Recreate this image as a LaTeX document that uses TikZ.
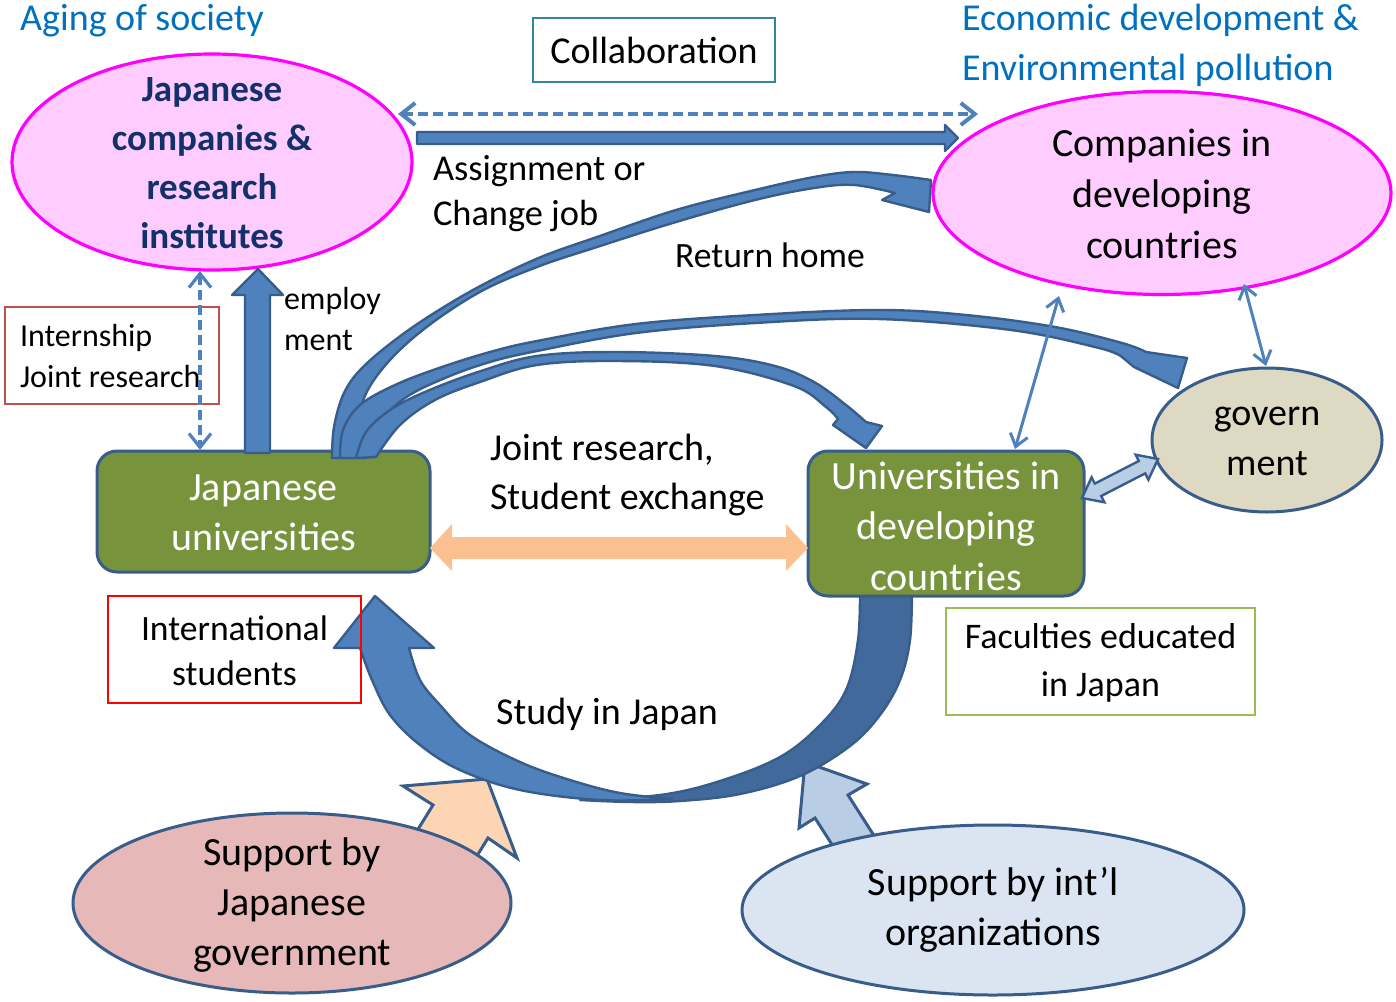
\documentclass[tikz,border=0pt]{standalone}
\usepackage{fontspec}
\setmainfont{Carlito}
\usetikzlibrary{shapes.geometric,arrows.meta}
\definecolor{accent}{HTML}{4F81BD}
\definecolor{edge}{HTML}{385D8A}
\definecolor{darkarr}{HTML}{41699B}
\definecolor{pinkfill}{HTML}{FFCCFF}
\definecolor{magent}{HTML}{FF00FF}
\definecolor{olive}{HTML}{77933C}
\definecolor{govfill}{HTML}{DDD9C3}
\definecolor{jgfill}{HTML}{E6B9B8}
\definecolor{iofill}{HTML}{DBE5F1}
\definecolor{orangearr}{HTML}{FAC090}
\definecolor{peach}{HTML}{FCD5B5}
\definecolor{lightblue}{HTML}{B9CDE5}
\definecolor{titleblue}{HTML}{0070C0}
\definecolor{navy}{HTML}{12306A}
\definecolor{tealline}{HTML}{31859C}
\definecolor{redline}{HTML}{C0504D}
\definecolor{greenline}{HTML}{9BBB59}
\begin{document}
\begin{tikzpicture}[x=0.5pt,y=-0.5pt,
  every node/.style={inner sep=0pt, outer sep=0pt},
  tA/.style={font=\fontsize{19}{25}\selectfont},
  tE/.style={font=\fontsize{20}{25.2}\selectfont},
  tB/.style={font=\fontsize{18}{24}\selectfont},
  tC/.style={font=\fontsize{17.8}{22.5}\selectfont},
  tD/.style={font=\fontsize{16}{20.3}\selectfont},
  pinkell/.style={ellipse, fill=pinkfill, draw=magent, line width=1.6pt},
  blueell/.style={ellipse, draw=edge, line width=1.5pt},
  unibox/.style={rectangle, rounded corners=10pt, fill=olive, draw=edge, line width=1.5pt},
  labelbox/.style={rectangle, line width=0.6pt},
  blk/.style={fill=accent, draw=edge, line width=1.2pt, line join=round},
  dblk/.style={fill=darkarr, draw=edge, line width=1.2pt, line join=round},
  thinarr/.style={draw=accent, line width=1.5pt, arrows={Straight Barb[length=6pt,width=9pt]-Straight Barb[length=6pt,width=9pt]}},
  dasharr/.style={draw=accent, dash pattern=on 5pt off 2.5pt, arrows={Straight Barb[length=7pt,width=11pt]-Straight Barb[length=7pt,width=11pt]}}
]
\useasboundingbox (0,0) rectangle (1396,1001);

% ---------- support arrows (bases hidden by ellipses)
\filldraw[fill=peach, draw=edge, line width=1.5pt, line join=miter]
  (487,779) -- (517,858) -- (488,838) -- (467,872) -- (412,839) -- (433,805) -- (403,786) -- cycle;
\filldraw[fill=lightblue, draw=edge, line width=1.5pt, line join=miter]
  (805,762) -- (867,784) -- (848,795) -- (880,845) -- (847,868) -- (815,818) -- (799,828) -- cycle;

% ---------- ellipses
\node[pinkell, minimum width=200pt, minimum height=108pt] (jc) at (212,162) {};
\node[font=\fontsize{18.5}{24.4}\selectfont\bfseries, text=navy, align=center] (jct) at (212,163) {Japanese\\companies \&\\research\\institutes};
\node[pinkell, minimum width=229pt, minimum height=101.5pt] (cd) at (1162,193) {};
\node[font=\fontsize{20}{25.5}\selectfont, align=center] (cdt) at (1162,194) {Companies in\\developing\\countries};
\node[blueell, fill=govfill, minimum width=115pt, minimum height=72pt] (gov) at (1267,440) {};
\node[tA, align=center] (govt) at (1267,441) {govern\\ment};
\node[blueell, fill=jgfill, minimum width=219pt, minimum height=90pt] (jg) at (292,903) {};
\node[tE, align=center] (jgt) at (292,905) {Support by\\Japanese\\government};
\node[blueell, fill=iofill, minimum width=251pt, minimum height=85pt] (io) at (993,910) {};
\node[tE, align=center] (iot) at (993,910) {Support by int’l\\organizations};

% ---------- study in Japan arrow
\filldraw[dblk]
  plot[smooth, tension=0.6] coordinates {(860,588) (858,640) (846,690) (820,725) (780,757) (720,781) (660,795) (580,800)}
  -- plot[smooth, tension=0.6] coordinates {(580,800) (630,802) (680,801) (740,794) (800,776) (850,746) (880,715) (900,680) (910,640) (912,588)}
  -- cycle;
\filldraw[blk]
  (375,596) -- (434,648) -- (409,648)
  -- plot[smooth, tension=0.6] coordinates {(409,648) (420,680) (440,705) (470,735) (520,762) (570,780) (620,793) (672,799)}
  -- plot[smooth, tension=0.6] coordinates {(672,799) (600,800) (520,790) (460,770) (420,745) (390,715) (372,680) (360,648)}
  -- (334,648) -- cycle;

% ---------- university boxes
\node[unibox, minimum width=166.5pt, minimum height=60.5pt] (ju) at (263.5,511.5) {};
\node[tE, text=white, align=center] (jut) at (263.5,513) {Japanese\\universities};
\node[unibox, minimum width=138pt, minimum height=72.5pt] (ud) at (946,523.5) {};
\node[tE, text=white, align=center] (udt) at (946,526) {Universities in\\developing\\countries};

% ---------- label boxes
\node[labelbox, draw=tealline, minimum width=121pt, minimum height=32pt, tA] (collab) at (654,50) {Collaboration};
\node[labelbox, draw=redline, minimum width=107pt, minimum height=48.5pt] (intern) at (112,355.5) {};
\node[tD, align=left, anchor=west] (interntxt) at (20,356) {Internship\\Joint research};
\node[labelbox, draw=red, minimum width=126.5pt, minimum height=53.5pt] (intl) at (234.5,649.5) {};
\node[tC, align=center] (intltxt) at (234.5,651) {International\\students};
\node[labelbox, draw=greenline, minimum width=154.5pt, minimum height=53.5pt] (fac) at (1100.5,661.5) {};
\node[tB, align=center] (factxt) at (1100.5,663) {Faculties educated\\in Japan};

% ---------- free texts
\node[tA, text=titleblue] (aging) at (142,21) {Aging of society};
\node[tA, text=titleblue, align=left, anchor=west] (econ) at (962,45) {Economic development \&\\Environmental pollution};
\node[font=\fontsize{18.2}{22.5}\selectfont, align=left, anchor=west] (assign) at (433,194) {Assignment or\\Change job};
\node[tC] (ret) at (770,255) {Return home};
\node[tD, align=left, anchor=west] (employ) at (284,319) {employ\\ment};
\node[font=\fontsize{19}{24.5}\selectfont, align=left, anchor=west] (joint) at (490,475) {Joint research,\\Student exchange};
\node[tA] (study) at (607,714) {Study in Japan};

% ---------- curved arrows from Japanese universities
% to companies in developing countries
\filldraw[blk]
  plot[smooth, tension=0.6] coordinates {(332,458) (334,427) (344,393) (363,367) (399,337) (439,310) (486,283) (541,257) (597,237) (676,210) (755,190) (814,177) (854,172) (893,175) (931,180)}
  -- (929,212) -- (882,200)
  -- plot[smooth, tension=0.6] coordinates {(895,193) (854,185) (814,188) (755,200) (676,222) (597,247) (537,267) (478,293) (419,333) (379,373) (360,410) (356,458)}
  -- cycle;
% to government
\filldraw[blk]
  plot[smooth, tension=0.6] coordinates {(340,458) (343,430) (360,405) (395,385) (439,368) (490,352) (537,341) (636,324) (755,315) (878,310) (966,315) (1055,327) (1122,343) (1146,352)}
  -- (1187,358) -- (1178,388) -- (1134,367)
  -- plot[smooth, tension=0.6] coordinates {(1122,357) (1099,348) (1011,330) (878,319) (755,323) (636,333) (537,351) (490,362) (445,378) (405,398) (378,425) (366,458)}
  -- cycle;
% to universities in developing countries
\filldraw[blk]
  plot[smooth, tension=0.6] coordinates {(356,458) (366,432) (390,410) (425,392) (478,372) (537,356) (616,352) (715,356) (775,366) (814,382) (846,405) (866,422)}
  -- (882,426) -- (866,448) -- (833,425)
  -- plot[smooth, tension=0.6] coordinates {(838,419) (826,407) (794,386) (715,366) (616,361) (537,365) (480,382) (435,400) (400,425) (376,457)}
  -- cycle;

% ---------- straight block arrows
\filldraw[blk] (245,453) -- (245,295) -- (232,295) -- (258,269) -- (283,295) -- (270,295) -- (270,453) -- cycle;
\filldraw[blk] (417,132) -- (945,132) -- (945,125) -- (958,138) -- (945,151) -- (945,144) -- (417,144) -- cycle;
\fill[orangearr] (430,548) -- (452,524) -- (452,537) -- (786,537) -- (786,524) -- (808,548) -- (786,571) -- (786,559) -- (452,559) -- (452,571) -- cycle;
\filldraw[fill=lightblue, draw=edge, line width=1.2pt, line join=miter]
  (1082,498) -- (1091.6,477.3) -- (1094.8,483.6) -- (1138.8,461.0) -- (1135.6,454.7) -- (1158,459)
  -- (1148.4,479.7) -- (1145.2,473.4) -- (1101.2,496.0) -- (1104.4,502.3) -- cycle;

% ---------- dashed and thin connectors
\coordinate (dL) at (398,114);
\coordinate (dR) at (978,114);
\draw[dasharr, line width=2pt] (dL) -- (dR);
\coordinate (vT) at (200,271);
\coordinate (vB) at (200,450);
\draw[dasharr, line width=1.6pt] (vT) -- (vB);
\coordinate (t1a) at (1015,449);
\coordinate (t1b) at (1059,296);
\draw[thinarr] (t1a) -- (t1b);
\coordinate (t2a) at (1266,366);
\coordinate (t2b) at (1244,284);
\draw[thinarr] (t2a) -- (t2b);
\end{tikzpicture}
\end{document}
